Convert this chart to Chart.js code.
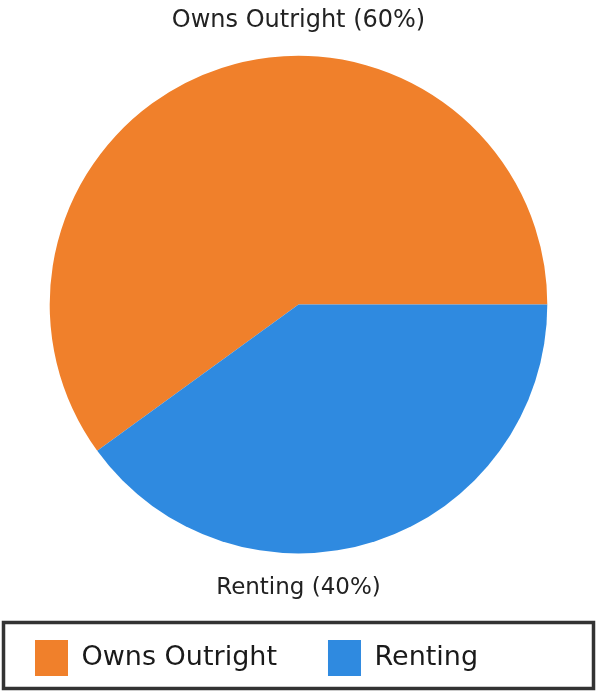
<!DOCTYPE html>
<html>
<head>
<meta charset="utf-8">
<script src="https://cdn.jsdelivr.net/npm/chart.js@4"></script>
<style>
  html, body { margin: 0; padding: 0; background: #fff; }
  #wrap { width: 597px; height: 691px; }
</style>
</head>
<body>
<div id="wrap"><canvas id="myChart"></canvas></div>
<script>
  const labels = ['Owns Outright', 'Renting'];
  const shares = [60, 40];
  const colors = ['#f0802b', '#2f8ae0'];

  // frame round the legend, and nudge the legend items into place
  let frameTop = 0;
  const legendFrame = {
    id: 'legendFrame',
    afterLayout(chart) {
      const lg = chart.legend;
      frameTop = lg.top + 2;
      lg.top -= 31;
      lg.left = -16;
    },
    afterDraw(chart) {
      const c = chart.ctx;
      c.save();
      c.strokeStyle = '#333';
      c.lineWidth = 3.5;
      c.strokeRect(3.5, frameTop + 0.5, chart.width - 7, chart.height - 3 - frameTop);
      c.restore();
    }
  };

  const ctx = document.getElementById('myChart').getContext('2d');

  const myChart = new Chart(ctx, {
    type: 'pie',
    data: {
      labels: labels,
      datasets: [{
        data: shares,
        backgroundColor: colors,
        borderWidth: 0
      }]
    },
    options: {
      responsive: true,
      maintainAspectRatio: false,
      animation: false,
      rotation: 234,
      plugins: {
        tooltip: { enabled: false },
        title: {
          display: true,
          text: labels[0] + ' (' + shares[0] + '%)',
          color: '#222',
          font: { family: 'DejaVu Sans', size: 24, weight: 'normal' },
          padding: { top: 6, bottom: 21 }
        },
        subtitle: {
          display: true,
          position: 'bottom',
          weight: 500,
          text: labels[1] + ' (' + shares[1] + '%)',
          color: '#222',
          font: { family: 'DejaVu Sans', size: 23, weight: 'normal' },
          padding: { top: 21, bottom: 18 }
        },
        legend: {
          position: 'bottom',
          align: 'start',
          maxHeight: 71,
          labels: {
            color: '#1a1a1a',
            font: { family: 'DejaVu Sans', size: 27 },
            boxWidth: 33,
            boxHeight: 36,
            padding: 51
          }
        }
      }
    },
    plugins: [legendFrame]
  });
</script>
</body>
</html>
